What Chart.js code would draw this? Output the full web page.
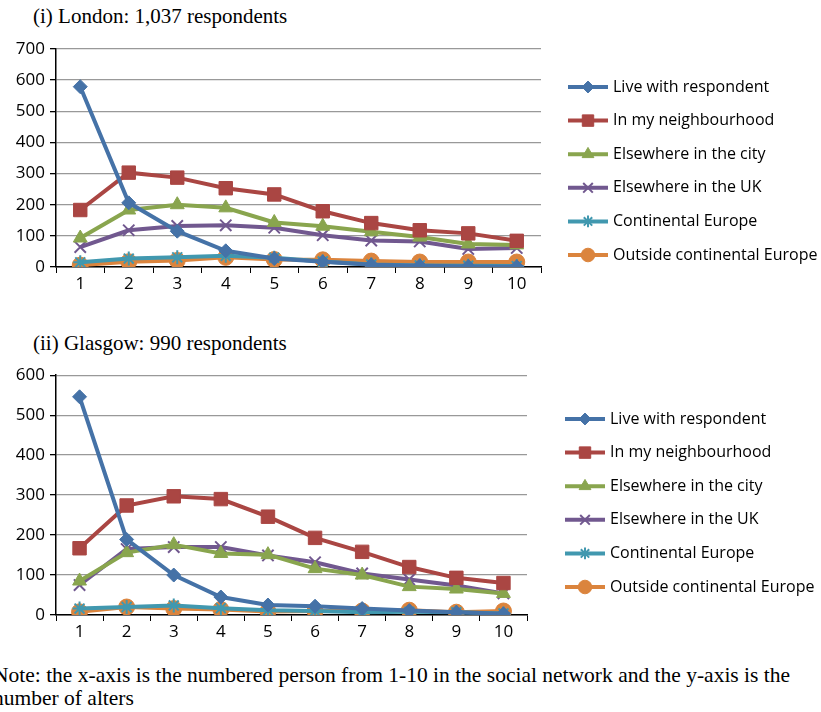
<!DOCTYPE html>
<html>
<head>
<meta charset="utf-8">
<script src="https://cdn.jsdelivr.net/npm/chart.js@4.4.0/dist/chart.umd.min.js"></script>
<style>
  body { margin: 0; background: #fff; width: 821px; height: 712px; overflow: hidden; position: relative; }
  .title { position: absolute; font-family: "Liberation Serif", serif; font-size: 21px; color: #000; white-space: nowrap; }
  .box { position: absolute; left: 0; width: 821px; }
  .note { position: absolute; left: -7px; font-family: "Liberation Serif", serif; font-size: 21.5px; line-height: 23px; color: #000; white-space: nowrap; }
</style>
</head>
<body>
<div class="title" style="left:33px; top:4px;">(i) London: 1,037 respondents</div>
<div class="box" style="top:30px; height:270px;"><canvas id="londonChart"></canvas></div>
<div class="title" style="left:33px; top:331px;">(ii) Glasgow: 990 respondents</div>
<div class="box" style="top:360px; height:290px;"><canvas id="glasgowChart"></canvas></div>
<div class="note" style="top:664px;">Note: the x-axis is the numbered person from 1-10 in the social network and the y-axis is the<br>number of alters</div>

<script>
const persons = ["1", "2", "3", "4", "5", "6", "7", "8", "9", "10"];
const seriesNames = ["Live with respondent", "In my neighbourhood", "Elsewhere in the city",
  "Elsewhere in the UK", "Continental Europe", "Outside continental Europe"];

// London (1,037 respondents)
const londonLive = [579, 206, 115, 52, 27, 17, 7, 4, 2, 1];
const londonNeighbourhood = [183, 303, 287, 253, 233, 179, 141, 118, 108, 84];
const londonCity = [93, 183, 200, 190, 143, 131, 113, 96, 74, 71];
const londonUK = [64, 118, 132, 134, 126, 102, 85, 82, 58, 61];
const londonEurope = [15, 27, 31, 36, 30, 18, 8, 5, 4, 3];
const londonOutside = [6, 17, 21, 31, 24, 23, 19, 16, 16, 16];

// Glasgow (990 respondents)
const glasgowLive = [546, 189, 100, 45, 25, 22, 16, 11, 7, 3];
const glasgowNeighbourhood = [167, 274, 297, 290, 246, 193, 158, 120, 93, 80];
const glasgowCity = [85, 156, 176, 154, 151, 116, 100, 71, 65, 54];
const glasgowUK = [75, 165, 170, 170, 149, 132, 104, 89, 74, 54];
const glasgowEurope = [16, 20, 24, 17, 12, 10, 7, 8, 7, 4];
const glasgowOutside = [8, 20, 16, 14, 9, 10, 10, 12, 7, 10];

const yTicksLondon = [0, 100, 200, 300, 400, 500, 600, 700];
const yTicksGlasgow = [0, 100, 200, 300, 400, 500, 600];

const colors = ["#4572A7", "#AA4643", "#89A54E", "#71588F", "#4198AF", "#DB843D"];
const markers = ["rectRot", "rect", "triangle", "crossRot", "star", "circle"];
const markerSizes = [7, 9.5, 8, 8, 7, 8];

const tickFont = { family: "'Open Sans', sans-serif", size: 17 };

function makeDatasets(values) {
  return values.map((data, i) => ({
    label: seriesNames[i],
    data: data,
    borderColor: colors[i],
    backgroundColor: colors[i],
    borderWidth: 4,
    pointStyle: markers[i],
    pointRadius: markerSizes[i],
    pointBorderWidth: i === 3 || i === 4 ? 2 : 1,
    pointBorderColor: colors[i],
    pointBackgroundColor: colors[i],
    tension: 0
  }));
}

// legend drawn in canvas: line with marker, Excel style
const sideLegend = {
  id: "sideLegend",
  afterDraw(chart, args, opts) {
    const ctx = chart.ctx;
    ctx.save();
    chart.data.datasets.forEach((ds, i) => {
      const y = opts.top + i * opts.gap;
      ctx.strokeStyle = ds.borderColor;
      ctx.lineWidth = 4;
      ctx.beginPath();
      ctx.moveTo(opts.x, y);
      ctx.lineTo(opts.x + 40, y);
      ctx.stroke();
      ctx.fillStyle = ds.backgroundColor;
      ctx.lineWidth = ds.pointBorderWidth;
      Chart.helpers.drawPoint(ctx, {
        pointStyle: ds.pointStyle,
        radius: ds.pointRadius * 0.85,
        borderWidth: ds.pointBorderWidth
      }, opts.x + 20, y);
      ctx.fillStyle = "#000";
      ctx.font = "16px 'Open Sans', sans-serif";
      ctx.textBaseline = "middle";
      ctx.fillText(ds.label, opts.x + 45, y);
    });
    ctx.restore();
  }
};

function makeChart(id, values, yTicks, box) {
  const yMax = yTicks[yTicks.length - 1];
  return new Chart(document.getElementById(id), {
    type: "line",
    data: { labels: persons, datasets: makeDatasets(values) },
    plugins: [sideLegend],
    options: {
      responsive: true,
      maintainAspectRatio: false,
      animation: false,
      layout: { padding: { top: box.top, right: box.right, left: 0, bottom: 0 } },
      plugins: {
        legend: { display: false },
        tooltip: { enabled: false },
        sideLegend: box.legend
      },
      scales: {
        x: {
          offset: true,
          grid: { offset: true, drawOnChartArea: false, color: "#000", tickLength: 6 },
          border: { color: "#000", width: 1.5 },
          ticks: { color: "#000", font: tickFont, padding: 1 },
          afterFit: s => { s.height = box.xHeight; }
        },
        y: {
          min: 0,
          max: yMax,
          afterBuildTicks: s => { s.ticks = yTicks.map(v => ({ value: v })); },
          grid: { color: "#999", lineWidth: 1.3, tickColor: "#000", tickLength: 6 },
          border: { color: "#000", width: 1.5 },
          ticks: { color: "#000", font: tickFont, padding: 5 },
          afterFit: s => { s.width = box.yWidth; }
        }
      }
    }
  });
}

makeChart("londonChart",
  [londonLive, londonNeighbourhood, londonCity, londonUK, londonEurope, londonOutside],
  yTicksLondon,
  { top: 19, right: 280, xHeight: 33, yWidth: 56, legend: { x: 568, top: 57, gap: 33.6 } });

makeChart("glasgowChart",
  [glasgowLive, glasgowNeighbourhood, glasgowCity, glasgowUK, glasgowEurope, glasgowOutside],
  yTicksGlasgow,
  { top: 15, right: 294, xHeight: 35, yWidth: 56, legend: { x: 565, top: 59, gap: 33.6 } });
</script>
</body>
</html>
